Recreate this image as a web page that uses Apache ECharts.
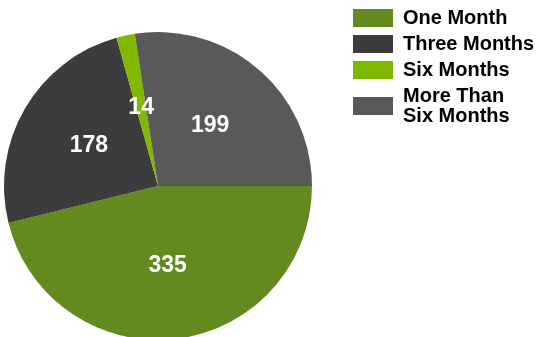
<!DOCTYPE html>
<html>
<head>
<meta charset="utf-8">
<script src="https://cdn.jsdelivr.net/npm/echarts@6/dist/echarts.min.js"></script>
<style>
  html, body { margin: 0; padding: 0; background: #ffffff; }
  #chart { width: 537px; height: 337px; }
</style>
</head>
<body>
<div id="chart"></div>
<script>
// Time-since-last-visit buckets and their counts
const categories = ['One Month', 'Three Months', 'Six Months', 'More Than Six Months'];
const counts = [335, 178, 14, 199];
const sliceColors = ['#638a1e', '#3c3c3c', '#80b800', '#595959'];

const chart = echarts.init(document.getElementById('chart'), null, { renderer: 'canvas' });

const font = 'Arial, "Liberation Sans", sans-serif';

chart.setOption({
  animation: false,
  color: sliceColors,
  legend: {
    orient: 'vertical',
    left: 353,
    top: 8,
    padding: 0,
    itemWidth: 40,
    itemHeight: 18,
    itemGap: 6,
    icon: 'rect',
    data: categories,
    formatter: function (name) {
      return name === 'More Than Six Months' ? 'More Than\nSix Months' : name;
    },
    textStyle: {
      fontFamily: font,
      fontWeight: 'bold',
      fontSize: 20,
      lineHeight: 20,
      color: '#000000',
      padding: [0, 0, 0, 5]
    }
  },
  series: [{
    type: 'pie',
    center: [158, 186],
    radius: 154,
    startAngle: 0,
    clockwise: true,
    avoidLabelOverlap: false,
    itemStyle: { borderWidth: 0 },
    label: {
      show: true,
      position: 'inside',
      formatter: '{c}',
      color: '#ffffff',
      fontFamily: font,
      fontWeight: 'bold',
      fontSize: 23
    },
    labelLine: { show: false },
    emphasis: { disabled: true },
    data: categories.map(function (name, i) {
      return { name: name, value: counts[i] };
    })
  }]
});
</script>
</body>
</html>
